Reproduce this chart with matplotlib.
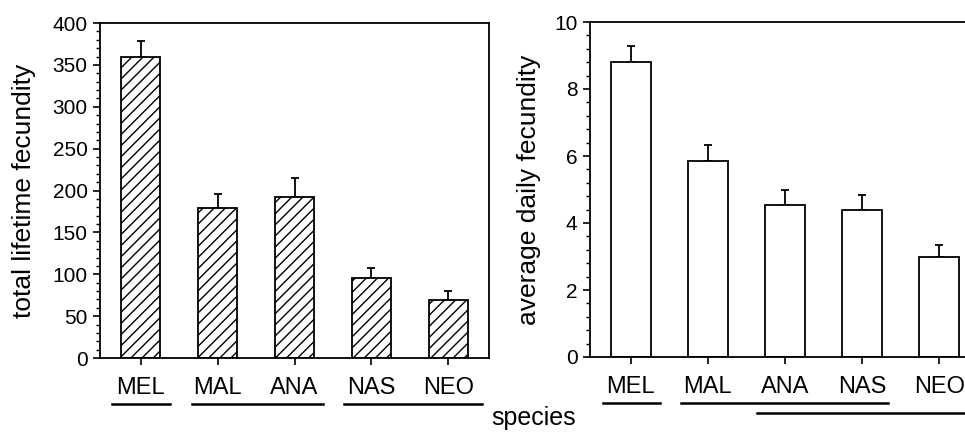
import matplotlib
matplotlib.use("Agg")
import matplotlib.pyplot as plt
from matplotlib.ticker import MultipleLocator
from matplotlib.lines import Line2D
import numpy as np

species = ["MEL", "MAL", "ANA", "NAS", "NEO"]
total_fec = [360, 179.5, 192, 96, 69.5]
total_err = [18, 16, 22.5, 11, 10]
daily_fec = [8.82, 5.86, 4.55, 4.38, 3.00]
daily_err = [0.46, 0.48, 0.43, 0.45, 0.35]

plt.rcParams['font.family'] = ['Liberation Sans', 'DejaVu Sans']
plt.rcParams['hatch.linewidth'] = 1.0
W, H = 965, 432
fig = plt.figure(figsize=(W/100, H/100), dpi=100)

def fx(px):
    return px / W

def fy(py):
    return 1 - py / H

# left axes: x 100..489, y 23..358
ax1 = fig.add_axes([fx(100), fy(358), fx(489 - 100), (358 - 23) / H])
# right axes: x 590..980, y 22..357 (right edge runs off the figure)
ax2 = fig.add_axes([fx(590), fy(357), fx(980 - 590), (357 - 22) / H])

x = np.arange(len(species))
ax1.bar(x, total_fec, width=0.51, facecolor='white', edgecolor='black',
        hatch='///', linewidth=1.3, zorder=2)
ax1.errorbar(x, total_fec, yerr=[np.zeros(5), total_err], fmt='none',
             ecolor='black', elinewidth=1.3, capsize=3, capthick=1.3, zorder=1)
ax1.set_ylim(0, 400)
ax1.yaxis.set_major_locator(MultipleLocator(50))
ax1.yaxis.set_minor_locator(MultipleLocator(10))
ax1.set_ylabel("total lifetime fecundity", fontsize=19)
ax1.yaxis.set_label_coords((24 - 100) / 389, 0.5)

ax2.bar(x, daily_fec, width=0.51, facecolor='white', edgecolor='black',
        linewidth=1.3, zorder=2)
ax2.errorbar(x, daily_fec, yerr=[np.zeros(5), daily_err], fmt='none',
             ecolor='black', elinewidth=1.3, capsize=3, capthick=1.3, zorder=1)
ax2.set_ylim(0, 10)
ax2.yaxis.set_major_locator(MultipleLocator(2))
ax2.yaxis.set_minor_locator(MultipleLocator(0.4))
ax2.set_ylabel("average daily fecundity", fontsize=19)
ax2.yaxis.set_label_coords((529 - 590) / 390, 0.5)

for ax in (ax1, ax2):
    ax.yaxis.label.set_verticalalignment('center')
    ax.set_xlim(-0.53, 4.53)
    ax.set_xticks(x)
    ax.set_xticklabels(species, fontsize=17)
    ax.tick_params(axis='x', direction='out', length=5, width=1.2, pad=9)
    ax.tick_params(axis='y', which='major', direction='out', length=5,
                   width=1.2, labelsize=15, pad=4)
    ax.tick_params(axis='y', which='minor', direction='out', length=3, width=1.0)
    for s in ax.spines.values():
        s.set_linewidth(1.3)

# significance underlines (figure pixel coordinates)
def hline(x0, x1, y):
    fig.add_artist(Line2D([fx(x0), fx(x1)], [fy(y), fy(y)], color='black',
                          linewidth=1.8, transform=fig.transFigure))

hline(112, 170, 404)
hline(192, 323, 404)
hline(344, 482, 404)
hline(603, 660, 403)
hline(681, 888, 403)
hline(757, 965, 413)

fig.text(fx(534), fy(425), "species", ha='center', va='baseline', fontsize=18)

fig.savefig("out.png", dpi=100)
